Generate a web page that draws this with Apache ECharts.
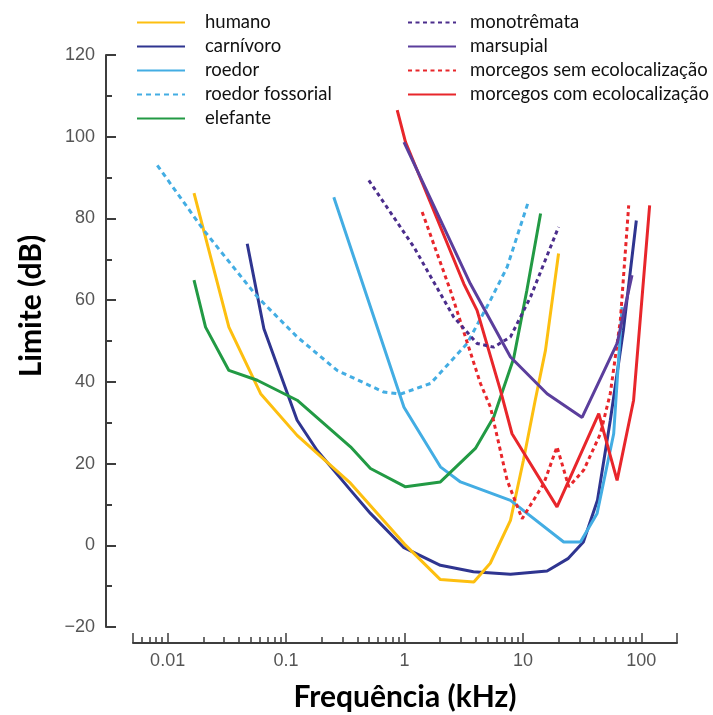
<!DOCTYPE html>
<html><head><meta charset="utf-8">
<script src="https://cdn.jsdelivr.net/npm/echarts@6/dist/echarts.min.js"></script>
<style>html,body{margin:0;padding:0;background:#fff}#c{width:713px;height:715px}</style>
</head><body><div id="c"></div>
<script>
// ---- data (frequency in kHz, threshold in dB) ----
const humanoFreq = [0.0167, 0.0329, 0.061, 0.124, 0.35, 1.0, 2.01, 3.85, 5.3, 7.85, 10.1, 12.7, 15.5, 20.0];
const humanoDb   = [86.2, 53.4, 37.1, 26.9, 15.2, 0.3, -8.4, -9.0, -4.4, 6.1, 20.8, 35.5, 47.7, 71.4];

const carnivoroFreq = [0.047, 0.065, 0.124, 0.183, 0.35, 0.516, 0.98, 2.01, 3.82, 7.85, 16.0, 24.2, 32.4, 42.6, 54.7, 70.5, 90.7];
const carnivoroDb   = [73.8, 53.0, 30.6, 23.2, 13.5, 7.8, -0.5, -4.9, -6.5, -7.1, -6.3, -3.2, 0.8, 11.0, 30.6, 52.6, 79.5];

const roedorFreq = [0.253, 0.99, 2.01, 2.97, 7.85, 22.1, 30.6, 42.3, 58.4, 68.7];
const roedorDb   = [85.2, 33.8, 19.2, 15.5, 11.0, 0.8, 0.8, 7.8, 27.3, 58.3];

const fossorialFreq = [0.00818, 0.0202, 0.0572, 0.124, 0.27, 0.668, 0.925, 1.66, 3.38, 5.32, 7.36, 11.2];
const fossorialDb   = [93.0, 77.1, 60.8, 51.0, 42.8, 37.5, 37.0, 39.6, 49.4, 60.0, 68.1, 84.4];

const elefanteFreq = [0.0167, 0.0209, 0.0329, 0.0571, 0.124, 0.35, 0.516, 1.02, 2.01, 3.97, 5.67, 8.36, 10.8, 14.1];
const elefanteDb   = [64.9, 53.4, 42.8, 40.4, 35.5, 24.1, 18.8, 14.3, 15.5, 23.7, 31.4, 45.8, 62.4, 81.2];

const monotremataFreq = [0.5, 1.2, 2.6, 4.1, 5.67, 7.85, 11.6, 20.0];
const monotremataDb   = [89.3, 73.0, 55.9, 49.4, 48.5, 51.0, 60.8, 77.9];

const marsupialFreq = [0.99, 3.6, 7.85, 16.0, 31.6, 62.4, 83.4];
const marsupialDb   = [98.7, 64.0, 46.1, 37.1, 31.3, 49.4, 66.1];

const semEcoFreq = [1.41, 2.44, 4.38, 5.32, 7.36, 9.84, 15.0, 19.4, 24.4, 32.6, 45.1, 54.7, 66.5, 78.2];
const semEcoDb   = [81.6, 62.4, 39.6, 33.8, 15.9, 6.5, 15.1, 24.1, 14.3, 18.4, 27.3, 37.2, 55.1, 83.2];

const comEcoFreq = [0.868, 1.02, 3.17, 4.1, 6.46, 8.09, 19.4, 43.7, 62.4, 86, 117.5];
const comEcoDb   = [106.5, 98.7, 64.0, 57.5, 37.9, 27.3, 9.4, 32.2, 15.9, 35.5, 83.2];

// ---- axes ----
const xMin = 0.0051, xMax = 200;
const xMajorTicks = [0.01, 0.1, 1, 10, 100];
const xTickLabels = ['0.01', '0.1', '1', '10', '100'];
const xMinorTicks = [0.006,0.007,0.008,0.009,
  0.02,0.03,0.04,0.05,0.06,0.07,0.08,0.09,
  0.2,0.3,0.4,0.5,0.6,0.7,0.8,0.9,
  2,3,4,5,6,7,8,9,
  20,30,40,50,60,70,80,90];
const yMin = -20, yMax = 120, yStep = 20;
const yMinorTicks = [-10, 10, 30, 50, 70, 90, 110];

const pairs = (f, d) => f.map((v, i) => [v, d[i]]);

const axisColor = '#3d3d3d';
const solid = (name, color, f, d) => ({
  name, type: 'line', data: pairs(f, d), symbol: 'none', showSymbol: false, silent: true,
  lineStyle: { color, width: 3 }, itemStyle: { color }
});
const dashed = (name, color, f, d, dash) => ({
  name, type: 'line', data: pairs(f, d), symbol: 'none', showSymbol: false, silent: true,
  lineStyle: { color, width: 3, type: dash || [4, 3.5] }, itemStyle: { color }
});

const legendText = { fontFamily: 'Lato', fontSize: 18.5, color: '#111' };
const chart = echarts.init(document.getElementById('c'), null, { renderer: 'canvas' });
chart.setOption({
  animation: false,
  backgroundColor: '#ffffff',
  grid: { left: 133, right: 36, top: 55, bottom: 88, containLabel: false },
  legend: [
    { left: 131, top: 8, orient: 'vertical', itemWidth: 48, itemHeight: 14, itemGap: 5,
      data: ['humano', 'carnívoro', 'roedor', 'roedor fossorial', 'elefante'],
      itemStyle: { opacity: 0 },
      textStyle: Object.assign({ padding: [0, 0, 0, 15] }, legendText),
      selectedMode: false },
    { left: 402, top: 8, orient: 'vertical', itemWidth: 48, itemHeight: 14, itemGap: 5,
      data: ['monotrêmata', 'marsupial', 'morcegos sem ecolocalização', 'morcegos com ecolocalização'],
      itemStyle: { opacity: 0 },
      textStyle: Object.assign({ padding: [0, 0, 0, 9] }, legendText),
      selectedMode: false }
  ],
  xAxis: [
    { type: 'log', logBase: 10, min: xMin, max: xMax, position: 'bottom', offset: 16,
      axisLine: { show: true, onZero: false, lineStyle: { color: axisColor, width: 2 } },
      axisTick: { show: true, inside: true, length: 6, customValues: xMinorTicks,
                  lineStyle: { color: axisColor, width: 1.5 } },
      axisLabel: { show: true, customValues: xMajorTicks, margin: 9,
        fontFamily: 'Liberation Sans', fontSize: 18, color: '#555',
        formatter: function (v) {
          let best = 0;
          xMajorTicks.forEach((t, i) => { if (Math.abs(Math.log10(t) - Math.log10(v)) < Math.abs(Math.log10(xMajorTicks[best]) - Math.log10(v))) best = i; });
          return xTickLabels[best];
        } },
      splitLine: { show: false }, minorTick: { show: false } },
    { type: 'log', logBase: 10, min: xMin, max: xMax, position: 'bottom', offset: 16,
      axisLine: { show: false, onZero: false },
      axisTick: { show: true, inside: true, length: 10, customValues: [xMin].concat(xMajorTicks, [xMax]),
                  lineStyle: { color: axisColor, width: 1.5 } },
      axisLabel: { show: false }, splitLine: { show: false } }
  ],
  yAxis: [
    { type: 'value', min: yMin, max: yMax, interval: yStep, position: 'left', offset: 27,
      axisLine: { show: true, onZero: false, lineStyle: { color: axisColor, width: 2 } },
      axisTick: { show: true, inside: true, length: 10, lineStyle: { color: axisColor, width: 2 } },
      axisLabel: { margin: 11, fontFamily: 'Liberation Sans', fontSize: 18, color: '#555',
        formatter: v => (v < 0 ? '\u2212' + (-v) : String(v)) },
      splitLine: { show: false } },
    { type: 'value', min: yMin, max: yMax, position: 'left', offset: 27,
      axisLine: { show: false, onZero: false },
      axisTick: { show: true, inside: true, length: 6, customValues: yMinorTicks,
                  lineStyle: { color: axisColor, width: 2 } },
      axisLabel: { show: false }, splitLine: { show: false } }
  ],
  graphic: [
    { type: 'text', x: 31, y: 306, rotation: Math.PI / 2, silent: true,
      style: { text: 'Limite (dB)', align: 'center', verticalAlign: 'middle',
               font: 'bold 30px Lato', fill: '#000' } },
    { type: 'text', x: 405, y: 697, silent: true,
      style: { text: 'Frequência (kHz)', align: 'center', verticalAlign: 'middle',
               font: 'bold 30px Lato', fill: '#000' } }
  ],
  series: [
    solid('carnívoro', '#2f3590', carnivoroFreq, carnivoroDb),
    solid('humano', '#fdbf10', humanoFreq, humanoDb),
    solid('roedor', '#43ade3', roedorFreq, roedorDb),
    dashed('roedor fossorial', '#43ade3', fossorialFreq, fossorialDb, [5, 4]),
    solid('elefante', '#229a44', elefanteFreq, elefanteDb),
    solid('morcegos com ecolocalização', '#e8262b', comEcoFreq, comEcoDb),
    dashed('morcegos sem ecolocalização', '#e8262b', semEcoFreq, semEcoDb),
    dashed('monotrêmata', '#4b2d8c', monotremataFreq, monotremataDb),
    solid('marsupial', '#5b3e9c', marsupialFreq, marsupialDb)
  ]
});
</script></body></html>
